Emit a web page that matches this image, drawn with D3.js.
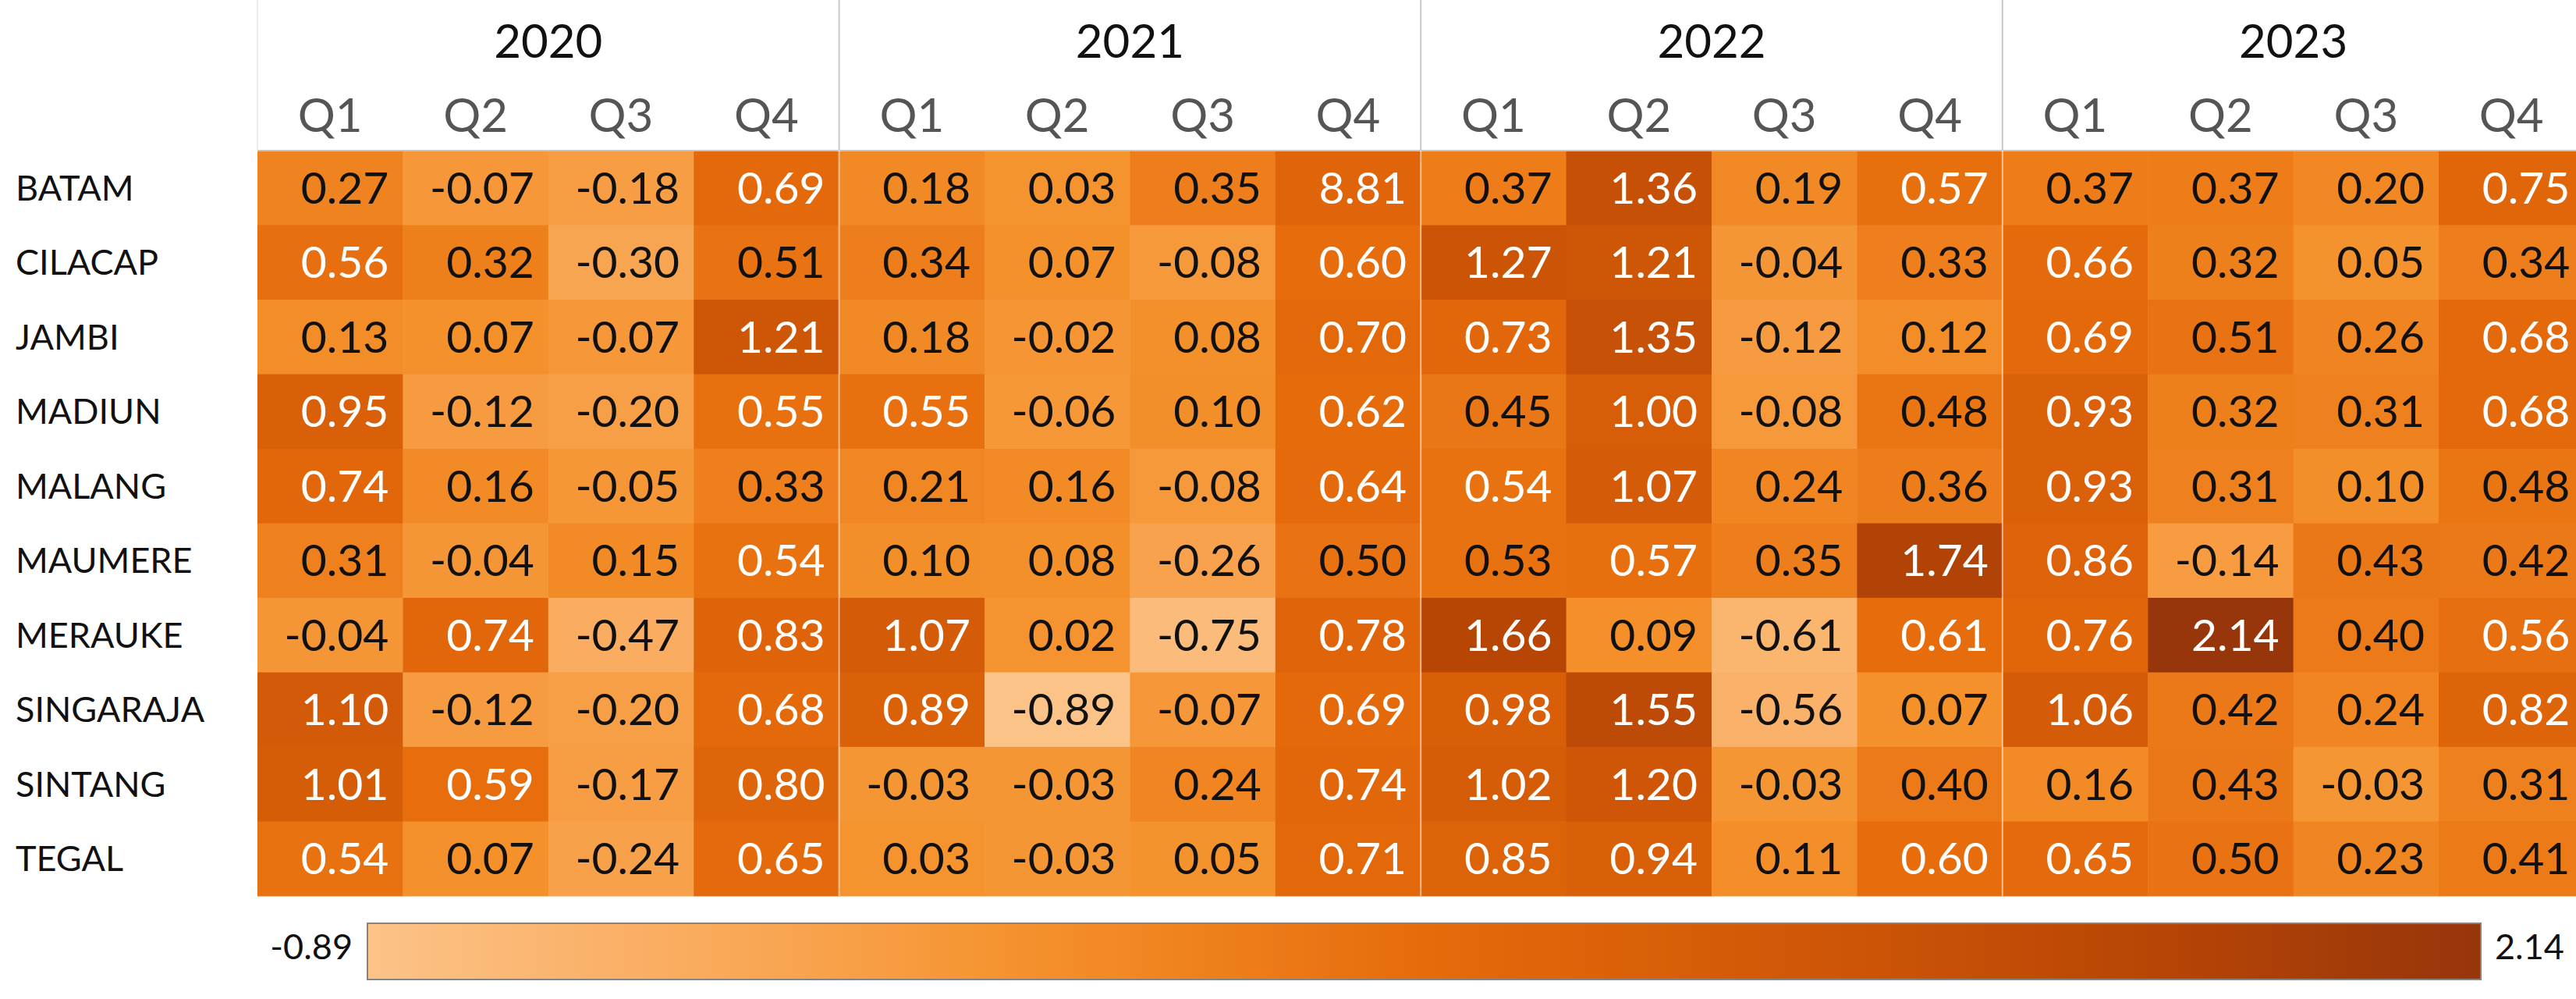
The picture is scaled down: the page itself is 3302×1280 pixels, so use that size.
<!DOCTYPE html>
<html>
<head>
<meta charset="utf-8">
<script src="https://cdn.jsdelivr.net/npm/d3@7"></script>
<style>
  html, body { margin: 0; padding: 0; background: #ffffff; }
  svg { display: block; font-family: Lato, "Open Sans", sans-serif; }
</style>
</head>
<body>
<svg id="chart"></svg>
<script>
// ---- data ----
var years    = ["2020", "2021", "2022", "2023"];
var quarters = ["Q1", "Q2", "Q3", "Q4"];
var cities   = ["BATAM", "CILACAP", "JAMBI", "MADIUN", "MALANG",
                "MAUMERE", "MERAUKE", "SINGARAJA", "SINTANG", "TEGAL"];

// one row per city, Q1..Q4
var values2020 = [
  [ 0.27, -0.07, -0.18, 0.69],
  [ 0.56,  0.32, -0.30, 0.51],
  [ 0.13,  0.07, -0.07, 1.21],
  [ 0.95, -0.12, -0.20, 0.55],
  [ 0.74,  0.16, -0.05, 0.33],
  [ 0.31, -0.04,  0.15, 0.54],
  [-0.04,  0.74, -0.47, 0.83],
  [ 1.10, -0.12, -0.20, 0.68],
  [ 1.01,  0.59, -0.17, 0.80],
  [ 0.54,  0.07, -0.24, 0.65]
];
var values2021 = [
  [ 0.18,  0.03,  0.35, 0.81],
  [ 0.34,  0.07, -0.08, 0.60],
  [ 0.18, -0.02,  0.08, 0.70],
  [ 0.55, -0.06,  0.10, 0.62],
  [ 0.21,  0.16, -0.08, 0.64],
  [ 0.10,  0.08, -0.26, 0.50],
  [ 1.07,  0.02, -0.75, 0.78],
  [ 0.89, -0.89, -0.07, 0.69],
  [-0.03, -0.03,  0.24, 0.74],
  [ 0.03, -0.03,  0.05, 0.71]
];
var values2022 = [
  [ 0.37,  1.36,  0.19, 0.57],
  [ 1.27,  1.21, -0.04, 0.33],
  [ 0.73,  1.35, -0.12, 0.12],
  [ 0.45,  1.00, -0.08, 0.48],
  [ 0.54,  1.07,  0.24, 0.36],
  [ 0.53,  0.57,  0.35, 1.74],
  [ 1.66,  0.09, -0.61, 0.61],
  [ 0.98,  1.55, -0.56, 0.07],
  [ 1.02,  1.20, -0.03, 0.40],
  [ 0.85,  0.94,  0.11, 0.60]
];
var values2023 = [
  [ 0.37,  0.37,  0.20, 0.75],
  [ 0.66,  0.32,  0.05, 0.34],
  [ 0.69,  0.51,  0.26, 0.68],
  [ 0.93,  0.32,  0.31, 0.68],
  [ 0.93,  0.31,  0.10, 0.48],
  [ 0.86, -0.14,  0.43, 0.42],
  [ 0.76,  2.14,  0.40, 0.56],
  [ 1.06,  0.42,  0.24, 0.82],
  [ 0.16,  0.43, -0.03, 0.31],
  [ 0.65,  0.50,  0.23, 0.41]
];
// the cell is coloured like 0.81 but its label reads 8.81
var labelOverrides = [{city: "BATAM", year: "2021", quarter: "Q4", text: "8.81"}];

var legendRange = [-0.89, 2.14];

// ---- layout ----
var W = 3302, H = 1280;
var gridLeft = 330, gridTop = 193, colW = 186.4, gridBottom = 1148;

var fmt = d3.formatLocale({decimal: ".", thousands: ",", grouping: [3], currency: ["", ""], minus: "-"}).format(".2f");

var byYear = {"2020": values2020, "2021": values2021, "2022": values2022, "2023": values2023};

var cells = [];
years.forEach(function(yr) {
  cities.forEach(function(c, i) {
    quarters.forEach(function(q, j) {
      var v = byYear[yr][i][j];
      var ov = labelOverrides.find(function(o) { return o.city == c && o.year == yr && o.quarter == q; });
      cells.push({city: c, year: yr, quarter: q, value: v,
                  label: ov ? ov.text : fmt(v)});
    });
  });
});

var colKeys = [];
years.forEach(function(yr) { quarters.forEach(function(q) { colKeys.push(yr + "|" + q); }); });

var gridRight = gridLeft + colW * colKeys.length;
var x = d3.scaleBand().domain(colKeys).range([gridLeft, gridRight]);
var y = d3.scaleBand().domain(cities).range([gridTop, gridBottom]);
var xYear = d3.scaleBand().domain(years).range([gridLeft, gridRight]);

// sequential orange, stops along the legend range
var stopT = [0, 0.18, 0.32, 0.5, 0.68, 0.85, 1];
var stopC = ["#fcc388", "#f9a756", "#f4902a", "#e66b0b", "#d05707", "#b64505", "#97350b"];
var color = d3.scaleLinear()
  .domain(stopT.map(function(t) { return legendRange[0] + t * (legendRange[1] - legendRange[0]); }))
  .range(stopC)
  .clamp(true);

var svg = d3.select("#chart").attr("width", W).attr("height", H);

// cells
svg.append("g").selectAll("rect")
  .data(cells).enter().append("rect")
  .attr("x", function(d) { return x(d.year + "|" + d.quarter); })
  .attr("y", function(d) { return y(d.city); })
  .attr("width", x.bandwidth() + 0.5)
  .attr("height", y.bandwidth() + 0.5)
  .attr("fill", function(d) { return color(d.value); });

// cell labels
svg.append("g").selectAll("text")
  .data(cells).enter().append("text")
  .attr("x", function(d) { return x(d.year + "|" + d.quarter) + x.bandwidth() - 18; })
  .attr("y", function(d) { return y(d.city) + y.bandwidth() / 2 + 20; })
  .attr("text-anchor", "end")
  .attr("font-size", 57)
  .attr("fill", function(d) { return d.value > 0.535 ? "#ffffff" : "#111111"; })
  .text(function(d) { return d.label; });

// header lines
svg.append("line")
  .attr("x1", gridLeft).attr("x2", W).attr("y1", gridTop).attr("y2", gridTop)
  .attr("stroke", "#c4c4c4").attr("stroke-width", 2);
svg.append("line")
  .attr("x1", gridLeft).attr("x2", gridLeft).attr("y1", 0).attr("y2", gridTop)
  .attr("stroke", "#e6e6e6").attr("stroke-width", 1.5);

// year dividers
years.slice(1).forEach(function(yr) {
  var xx = xYear(yr);
  svg.append("line")
    .attr("x1", xx).attr("x2", xx).attr("y1", 0).attr("y2", gridTop)
    .attr("stroke", "#c8c8c8").attr("stroke-width", 2);
  svg.append("line")
    .attr("x1", xx).attr("x2", xx).attr("y1", gridTop).attr("y2", gridBottom)
    .attr("stroke", "#ffffff").attr("stroke-opacity", 0.55).attr("stroke-width", 2);
});

// year labels
svg.append("g").selectAll("text")
  .data(years).enter().append("text")
  .attr("x", function(d) { return xYear(d) + xYear.bandwidth() / 2; })
  .attr("y", 74)
  .attr("text-anchor", "middle")
  .attr("font-size", 60)
  .attr("fill", "#111111")
  .text(function(d) { return d; });

// quarter labels
svg.append("g").selectAll("text")
  .data(colKeys).enter().append("text")
  .attr("x", function(d) { return x(d) + x.bandwidth() / 2; })
  .attr("y", 169)
  .attr("text-anchor", "middle")
  .attr("font-size", 60)
  .attr("fill", "#555555")
  .text(function(d) { return d.split("|")[1]; });

// city labels
svg.append("g").selectAll("text")
  .data(cities).enter().append("text")
  .attr("x", 20)
  .attr("y", function(d) { return y(d) + y.bandwidth() / 2 + 16; })
  .attr("font-size", 45)
  .attr("fill", "#111111")
  .text(function(d) { return d; });

// legend
var lg = {x0: 471, x1: 3180, y0: 1183, y1: 1255};
var grad = svg.append("defs").append("linearGradient").attr("id", "lgGrad")
  .attr("x1", "0%").attr("x2", "100%").attr("y1", "0%").attr("y2", "0%");
d3.range(0, 1.0001, 0.05).forEach(function(t) {
  grad.append("stop")
    .attr("offset", (t * 100) + "%")
    .attr("stop-color", color(legendRange[0] + t * (legendRange[1] - legendRange[0])));
});
svg.append("rect")
  .attr("x", lg.x0).attr("y", lg.y0)
  .attr("width", lg.x1 - lg.x0).attr("height", lg.y1 - lg.y0)
  .attr("fill", "url(#lgGrad)")
  .attr("stroke", "#858585").attr("stroke-width", 2);
svg.append("text")
  .attr("x", lg.x0 - 19).attr("y", 1229)
  .attr("text-anchor", "end").attr("font-size", 45).attr("fill", "#111111")
  .text(fmt(legendRange[0]));
svg.append("text")
  .attr("x", lg.x1 + 18).attr("y", 1229)
  .attr("text-anchor", "start").attr("font-size", 45).attr("fill", "#111111")
  .text(fmt(legendRange[1]));
</script>
</body>
</html>
